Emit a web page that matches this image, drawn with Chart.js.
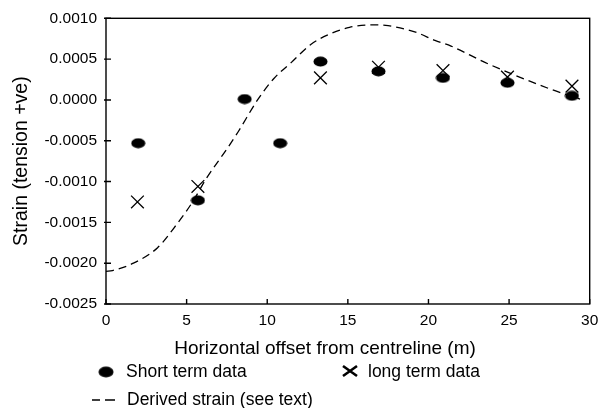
<!DOCTYPE html>
<html>
<head>
<meta charset="utf-8">
<script src="https://cdn.jsdelivr.net/npm/chart.js@4.4.1/dist/chart.umd.min.js"></script>
<style>
  html, body { margin: 0; padding: 0; background: #fff; }
  #wrap { width: 600px; height: 408px; position: relative; }
</style>
</head>
<body>
<div id="wrap"><canvas id="strainChart"></canvas></div>
<script>
// values
const shortX = [2.0, 5.7, 8.6, 10.8, 13.3, 16.9, 20.9, 24.9, 28.9];
const shortY = [-0.00053, -0.00123, 0.00001, -0.00053, 0.00047, 0.00035, 0.00027, 0.00021, 0.00005];

const longX = [1.95, 5.7, 13.3, 16.9, 20.9, 24.9, 28.9];
const longY = [-0.00125, -0.00106, 0.00027, 0.00040, 0.00036, 0.00028, 0.00017];

const derivedX = [0, 0.4, 1.7, 3.2, 4.4, 5.4, 6.2, 7.5, 8.2, 9.4, 10.4, 11.5, 12.7, 13.8, 15.1, 16.5, 17.5, 19.2, 20.4, 21.4, 23.5, 25.4, 27.6, 29.4];
const derivedY = [-0.00210, -0.00209, -0.00200, -0.00181, -0.00152, -0.00124, -0.00097, -0.00060, -0.00039, 0.00000, 0.00026, 0.00046, 0.00068, 0.00080, 0.00089, 0.00092, 0.00091, 0.00083, 0.00073, 0.00066, 0.00046, 0.00030, 0.00013, 0.00001];

const xTicks = [0, 5, 10, 15, 20, 25, 30];
const yTicks = [-0.0025, -0.0020, -0.0015, -0.0010, -0.0005, 0.0000, 0.0005, 0.0010];

const labels = ['Short term data', 'long term data', 'Derived strain (see text)'];
const xTitle = 'Horizontal offset from centreline (m)';

const FONT = "'Liberation Sans', Arial, sans-serif";

function pairs(xs, ys) { return xs.map((x, i) => ({ x: x, y: ys[i] })); }

function makeEllipse(w, h) {
  const c = document.createElement('canvas');
  c.width = w; c.height = h;
  const g = c.getContext('2d');
  g.fillStyle = '#000';
  g.beginPath();
  g.ellipse(w / 2, h / 2, w / 2 - 0.5, h / 2 - 0.5, 0, 0, Math.PI * 2);
  g.fill();
  return c;
}
const blob = makeEllipse(15, 11);

// frame, inward tick marks, x title and the legend underneath
const framePlugin = {
  id: 'frame',
  afterDraw(chart) {
    const ctx = chart.ctx;
    const a = chart.chartArea;
    const xs = chart.scales.x, ys = chart.scales.y;
    ctx.save();
    ctx.strokeStyle = '#000';
    ctx.lineWidth = 1.4;
    ctx.strokeRect(a.left, a.top, a.right - a.left, a.bottom - a.top);
    ctx.beginPath();
    xTicks.forEach(v => { const px = xs.getPixelForValue(v); ctx.moveTo(px, a.bottom); ctx.lineTo(px, a.bottom - 5); });
    yTicks.forEach(v => { const py = ys.getPixelForValue(v); ctx.moveTo(a.left - 2, py); ctx.lineTo(a.left + 5, py); });
    ctx.stroke();

    ctx.fillStyle = '#000';
    ctx.textBaseline = 'middle';
    ctx.textAlign = 'center';
    ctx.font = '19px ' + FONT;
    ctx.fillText(xTitle, 325, 349);

    // legend
    ctx.textAlign = 'left';
    ctx.font = '17.5px ' + FONT;
    ctx.drawImage(blob, 106 - 8, 372 - 6, 16, 12);
    ctx.fillText(labels[0], 126, 372);

    ctx.lineWidth = 2.6;
    ctx.beginPath();
    ctx.moveTo(343, 366); ctx.lineTo(357, 376);
    ctx.moveTo(343, 376); ctx.lineTo(357, 366);
    ctx.stroke();
    ctx.fillText(labels[1], 368, 372);

    ctx.lineWidth = 1.3;
    ctx.beginPath();
    ctx.moveTo(92, 400); ctx.lineTo(100, 400);
    ctx.moveTo(105, 400); ctx.lineTo(115, 400);
    ctx.stroke();
    ctx.fillText(labels[2], 127, 400);
    ctx.restore();
  }
};

const chart = new Chart(document.getElementById('strainChart'), {
  type: 'scatter',
  data: {
    datasets: [
      { label: labels[0], data: pairs(shortX, shortY), pointStyle: blob, pointRadius: 7, order: 1 },
      { label: labels[1], data: pairs(longX, longY), pointStyle: 'crossRot', pointRadius: 9, pointBorderWidth: 1.3, borderColor: '#000', backgroundColor: '#000', order: 2 },
      { label: labels[2], type: 'line', data: pairs(derivedX, derivedY), showLine: true, pointRadius: 0, borderColor: '#000', borderWidth: 1.3, borderDash: [8, 5], cubicInterpolationMode: 'monotone', fill: false, order: 3 }
    ]
  },
  options: {
    responsive: true,
    maintainAspectRatio: false,
    animation: false,
    layout: { padding: { left: 0, top: 15, right: 0, bottom: 48 } },
    plugins: { legend: { display: false }, tooltip: { enabled: false } },
    scales: {
      x: {
        type: 'linear', min: 0, max: 30,
        afterFit: s => { s.height = 56; s.paddingRight = 7; },
        afterBuildTicks: s => { s.ticks = xTicks.map(v => ({ value: v })); },
        grid: { display: false, drawTicks: false, tickLength: 0 },
        border: { display: false },
        ticks: { color: '#000', padding: 7, maxRotation: 0, font: { family: FONT, size: 15.5 } },
        title: { display: false }
      },
      y: {
        type: 'linear', min: -0.0025, max: 0.0010,
        afterFit: s => { s.width = 106; },
        afterBuildTicks: s => { s.ticks = yTicks.map(v => ({ value: v })); },
        grid: { display: false, drawTicks: false, tickLength: 0 },
        border: { display: false },
        ticks: { color: '#000', padding: 9, font: { family: FONT, size: 15.5 }, callback: v => v.toFixed(4) },
        title: { display: true, text: 'Strain (tension +ve)', color: '#000', padding: { top: 10, bottom: 0 }, font: { family: FONT, size: 19.5 } }
      }
    }
  },
  plugins: [framePlugin]
});
</script>
</body>
</html>
